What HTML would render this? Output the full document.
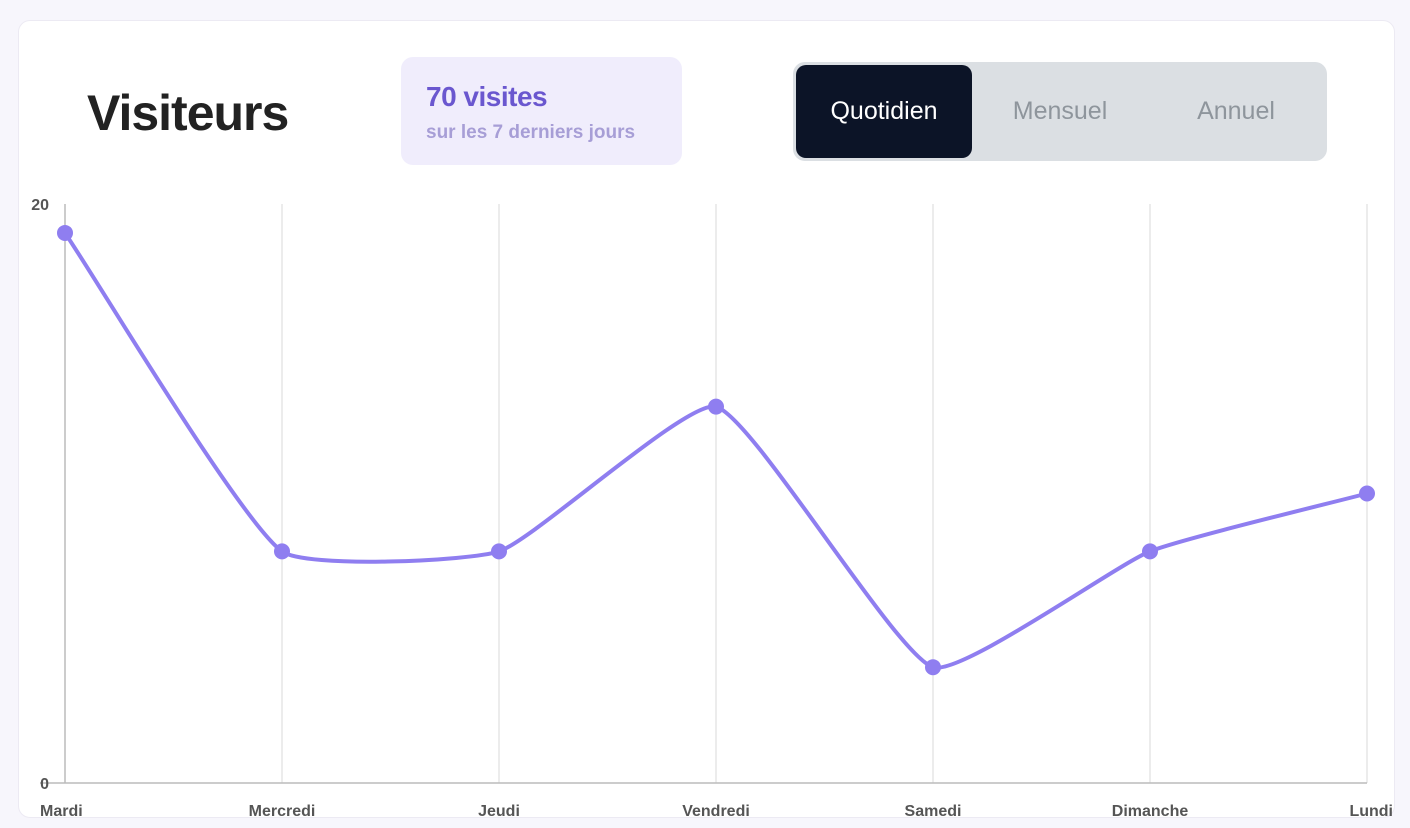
<!DOCTYPE html>
<html><head><meta charset="utf-8"><style>
html,body{margin:0;padding:0;width:1410px;height:828px;background:#f7f6fc;overflow:hidden;font-family:"Liberation Sans",sans-serif}
.card{position:absolute;left:18px;top:20px;width:1377px;height:798px;background:#fff;border:1px solid #eceaf3;border-radius:12px;box-sizing:border-box}
.title{position:absolute;left:87px;top:84px;font-size:50px;font-weight:bold;color:#222;letter-spacing:-1px}
.badge{position:absolute;left:401px;top:57px;width:281px;height:108px;background:#f0edfc;border-radius:12px}
.badge .a{position:absolute;left:25px;top:24px;font-size:28px;font-weight:bold;color:#6a57cf;letter-spacing:-0.5px}
.badge .b{position:absolute;left:25px;top:65px;font-size:19px;font-weight:bold;color:#a79ed6}
.tabs{position:absolute;left:793px;top:62px;width:534px;height:99px;background:#dbdfe3;border-radius:12px}
.tab{position:absolute;top:3px;height:93px;line-height:93px;text-align:center;font-size:25px;color:#8e959c}
.tab.on{background:#0c1427;color:#fff;border-radius:10px}
svg{position:absolute;left:0;top:0}
</style></head><body>
<div class="card"></div>
<div class="title">Visiteurs</div>
<div class="badge">
<div class="a">70 visites</div>
<div class="b">sur les 7 derniers jours</div></div>
<div class="tabs">
<div class="tab on" style="left:3px;width:176px">Quotidien</div>
<div class="tab" style="left:179px;width:176px">Mensuel</div>
<div class="tab" style="left:355px;width:176px">Annuel</div></div>
<svg id="chart" width="1410" height="828"></svg>
<script>
const categories=["Mardi","Mercredi","Jeudi","Vendredi","Samedi","Dimanche","Lundi"];
const visits=[19,8,8,13,4,8,10];
const yTicks=[0,20];
const yMax=20;
const svg=document.getElementById('chart');
const NS='http://www.w3.org/2000/svg';
const x0=65,x1=1367,yb=783,yt=204;
const xs=i=>x0+i*(x1-x0)/(categories.length-1);
const ys=v=>yb-(v/yMax)*(yb-yt);
function mk(t,a,p){const e=document.createElementNS(NS,t);for(const k in a)e.setAttribute(k,a[k]);(p||svg).appendChild(e);return e;}
categories.forEach((c,i)=>{
 const g=mk('line',{x1:xs(i),x2:xs(i),y1:yt,y2:yb,stroke:i==0?'#bbb':'#e6e6e6','stroke-width':1.5});
 
 
 const anchor=i==0?'start':(i==categories.length-1?'end':'middle');
 const t=mk('text',{x:i==0?40:(i==categories.length-1?1393:xs(i)),y:816,'text-anchor':anchor,'font-size':16,'font-weight':'bold',fill:'#555','font-family':'Liberation Sans'});
 t.textContent=c;
 
 
});
const ax=mk('line',{x1:40,x2:x1,y1:yb,y2:yb,stroke:'#bbb','stroke-width':1.5});


yTicks.forEach(v=>{
 const t=mk('text',{x:49,y:ys(v)+6,'text-anchor':'end','font-size':16,'font-weight':'bold',fill:'#555','font-family':'Liberation Sans'});
 t.textContent=v;
 
 
});
const pts=visits.map((v,i)=>[xs(i),ys(v)]);
const T=0.15;let d='M'+pts[0][0]+','+pts[0][1];
const cp=pts.map((p,i)=>{
 const pr=pts[i-1]||p,nx=pts[i+1]||p;
 const d01=Math.hypot(p[0]-pr[0],p[1]-pr[1]),d12=Math.hypot(nx[0]-p[0],nx[1]-p[1]);
 let fa=d01/(d01+d12||1),fb=d12/(d01+d12||1);fa=isNaN(fa)?0:fa*T;fb=isNaN(fb)?0:fb*T;
 return {pv:[p[0]-fa*(nx[0]-pr[0]),p[1]-fa*(nx[1]-pr[1])],nx:[p[0]+fb*(nx[0]-pr[0]),p[1]+fb*(nx[1]-pr[1])]};
});
for(let i=1;i<pts.length;i++){d+=` C${cp[i-1].nx[0]},${cp[i-1].nx[1]} ${cp[i].pv[0]},${cp[i].pv[1]} ${pts[i][0]},${pts[i][1]}`;}
const ln=mk('path',{d:d,fill:'none',stroke:'#8f7ef0','stroke-width':4});


pts.forEach((p,i)=>{
 const c=mk('circle',{cx:p[0],cy:p[1],r:8,fill:'#8f7ef0'});
 
 
});
</script>
</body></html>
